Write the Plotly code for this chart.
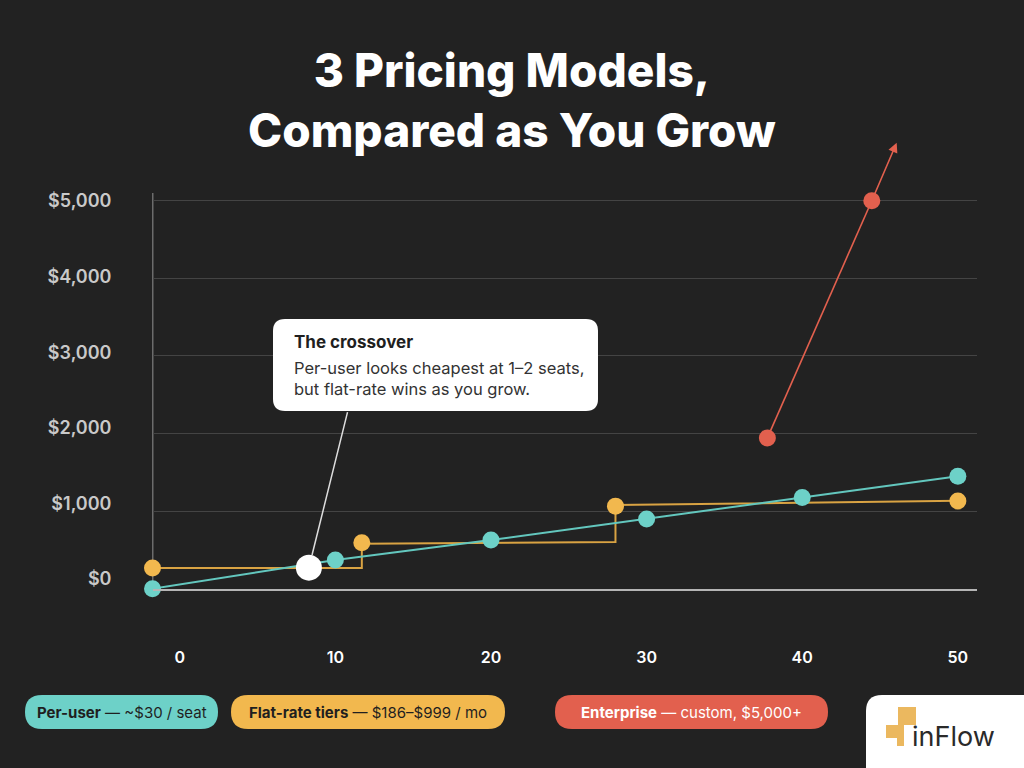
import plotly.graph_objects as go

W, H = 1024, 768
BG = "#222222"
TEAL = "#6DD1C8"
TEAL_LINE = "#63C7BE"
ORANGE = "#F2B84E"
ORANGE_LINE = "#D9A343"
RED = "#E2604E"
GRID = "#444444"
AXIS = "#b5b5b5"
FONT = "Inter"

# ---- data ----
per_user_seats = [-1.75, 10, 20, 30, 40, 50]
per_user_cost = [0, 370, 627, 897, 1176, 1450]

flat_seats = [-1.75, 11.7, 28, 50]
flat_cost = [267, 593, 1064, 1130]
flat_path_seats = [-1.75, 11.7, 11.7, 28, 28, 50]
flat_path_cost = [267, 267, 578, 603, 1078, 1132]

ent_seats = [37.76, 44.47]
ent_cost = [1943, 5000]
ent_arrow_seats = 46.07
ent_arrow_cost = 5747

cross_seats = [8.3]
cross_cost = [271]

x_ticks = [0, 10, 20, 30, 40, 50]
y_ticks = [0, 1000, 2000, 3000, 4000, 5000]
y_tick_labels = ["$0", "$1,000", "$2,000", "$3,000", "$4,000", "$5,000"]
y_axis_top = 5100

title_lines = ["3 Pricing Models,", "Compared as You Grow"]
legend_items = [
    ("Per-user", " — ~$30 / seat", TEAL, "#1f1f1f", 25, 218),
    ("Flat-rate tiers", " — $186–$999 / mo", ORANGE, "#1f1f1f", 231, 505),
    ("Enterprise", " — custom, $5,000+", RED, "#ffffff", 555, 828),
]
callout_title = "The crossover"
callout_body = ["Per-user looks cheapest at 1–2 seats,", "but flat-rate wins as you grow."]


def px(x):
    return x / W


def py(y):
    return 1 - y / H


def rounded_rect(x0, y0, x1, y1, r):
    """pixel box -> paper path with rounded corners"""
    X = lambda v: f"{px(v):.5f}"
    Y = lambda v: f"{py(v):.5f}"
    return (f"M {X(x0 + r)},{Y(y0)} L {X(x1 - r)},{Y(y0)} Q {X(x1)},{Y(y0)} {X(x1)},{Y(y0 + r)} "
            f"L {X(x1)},{Y(y1 - r)} Q {X(x1)},{Y(y1)} {X(x1 - r)},{Y(y1)} "
            f"L {X(x0 + r)},{Y(y1)} Q {X(x0)},{Y(y1)} {X(x0)},{Y(y1 - r)} "
            f"L {X(x0)},{Y(y0 + r)} Q {X(x0)},{Y(y0)} {X(x0 + r)},{Y(y0)} Z")


fig = go.Figure()

# flat-rate step line
fig.add_trace(go.Scatter(x=flat_path_seats, y=flat_path_cost, mode="lines",
                         line=dict(color=ORANGE_LINE, width=2), cliponaxis=False,
                         hoverinfo="skip", showlegend=False))
# per-user
fig.add_trace(go.Scatter(x=per_user_seats, y=per_user_cost, mode="lines",
                         line=dict(color=TEAL_LINE, width=2), cliponaxis=False,
                         hoverinfo="skip", showlegend=False))
fig.add_trace(go.Scatter(x=flat_seats, y=flat_cost, mode="markers",
                         marker=dict(color=ORANGE, size=17), cliponaxis=False,
                         showlegend=False))
fig.add_trace(go.Scatter(x=per_user_seats, y=per_user_cost, mode="markers",
                         marker=dict(color=TEAL, size=17), cliponaxis=False,
                         showlegend=False))
# enterprise
fig.add_trace(go.Scatter(x=ent_seats, y=ent_cost, mode="lines+markers",
                         line=dict(color=RED, width=1.6),
                         marker=dict(color=RED, size=17), cliponaxis=False,
                         showlegend=False))
# crossover
fig.add_trace(go.Scatter(x=cross_seats, y=cross_cost, mode="markers",
                         marker=dict(color="#ffffff", size=26), cliponaxis=False,
                         showlegend=False))
# dummy trace for the label axis
fig.add_trace(go.Scatter(x=[None], y=[None], yaxis="y2", showlegend=False, hoverinfo="skip"))

# axes geometry
x_left_px, x_right_px = 152.5, 977
y_bottom_px = 588.7
px_per_unit = 77.6 / 1000
y_top_val = 5850
y_top_px = y_bottom_px - y_top_val * px_per_unit
dom_h = y_bottom_px - y_top_px

# label axis: slightly different spacing like the reference
lab_scale = (579 - 201) / 5000
lab_a = -(y_bottom_px - 579) / lab_scale
lab_b = lab_a + dom_h / lab_scale

fig.update_layout(
    width=W, height=H,
    paper_bgcolor=BG, plot_bgcolor=BG,
    margin=dict(l=0, r=0, t=0, b=0),
    showlegend=False,
    xaxis=dict(domain=[px(x_left_px), px(x_right_px)], range=[-1.75, 51.23],
               tickvals=x_ticks, showgrid=False, zeroline=False,
               showline=True, linecolor=AXIS, linewidth=2, ticks="",
               ticklabelstandoff=53,
               tickfont=dict(family=FONT, size=16, color="#ffffff", weight=600)),
    yaxis=dict(domain=[py(y_bottom_px), py(y_top_px)], range=[0, y_top_val],
               tickvals=y_ticks, showticklabels=False, showgrid=True,
               gridcolor=GRID, gridwidth=1, zeroline=False, showline=False),
    yaxis2=dict(overlaying="y", anchor="x", side="left", range=[lab_a, lab_b],
                tickvals=y_ticks, ticktext=y_tick_labels, showgrid=False,
                zeroline=False, showline=False, ticks="", ticklabelstandoff=40,
                tickfont=dict(family=FONT, size=18, color="#c9c9c9", weight=600)),
)

shapes = []
# y-axis vertical line
shapes.append(dict(type="line", xref="x", yref="y", x0=-1.75, x1=-1.75, y0=0, y1=y_axis_top,
                   line=dict(color=AXIS, width=1.5), layer="below"))
# callout box
shapes.append(dict(type="path", xref="paper", yref="paper",
                   path=rounded_rect(273, 319, 598, 411, 12),
                   fillcolor="#ffffff", line=dict(width=0), layer="above"))
# legend pills
for _, _, col, _, x0, x1 in legend_items:
    shapes.append(dict(type="path", xref="paper", yref="paper",
                       path=rounded_rect(x0, 695, x1, 729, 17),
                       fillcolor=col, line=dict(width=0)))
# logo box
shapes.append(dict(type="path", xref="paper", yref="paper",
                   path=rounded_rect(866, 695, 1060, 800, 16),
                   fillcolor="#ffffff", line=dict(width=0)))
# logo glyph
LOGO = "#EBB85F"
for (a, b, c, d) in [(898, 707, 916, 725), (886, 725, 904, 738), (897, 738, 904, 746)]:
    shapes.append(dict(type="rect", xref="paper", yref="paper",
                       x0=px(a), x1=px(c), y0=py(d), y1=py(b),
                       fillcolor=LOGO, line=dict(width=0)))
fig.update_layout(shapes=shapes)

ann = []
# title
ann.append(dict(xref="paper", yref="paper", x=0.5, y=py(100), xanchor="center", yanchor="middle",
                text="<br>".join(title_lines), showarrow=False, align="center",
                font=dict(family=FONT, size=46, color="#ffffff", weight=800)))
# enterprise arrow extension
ann.append(dict(xref="x", yref="y", axref="x", ayref="y",
                x=ent_arrow_seats, y=ent_arrow_cost, ax=ent_seats[-1], ay=ent_cost[-1],
                text="", showarrow=True, arrowhead=2, arrowsize=1.2, arrowwidth=1.6,
                arrowcolor=RED, standoff=0, startstandoff=0))
# crossover leader line
ann.append(dict(xref="x", yref="y", x=cross_seats[0], y=cross_cost[0], ax=39, ay=-157,
                text="", showarrow=True, arrowhead=0, arrowwidth=1.5, arrowcolor="#dddddd",
                standoff=13))
# callout text
ann.append(dict(xref="paper", yref="paper", x=px(292), y=py(342), xanchor="left", yanchor="middle",
                text=f"<b>{callout_title}</b>", showarrow=False,
                font=dict(family=FONT, size=17, color="#1f1f1f", weight=800)))
ann.append(dict(xref="paper", yref="paper", x=px(292), y=py(378), xanchor="left", yanchor="middle",
                text="<br>".join(callout_body), showarrow=False, align="left",
                font=dict(family=FONT, size=16.5, color="#333333")))
# legend texts
for bold, rest, col, tcol, x0, x1 in legend_items:
    ann.append(dict(xref="paper", yref="paper", x=px((x0 + x1) / 2), y=py(712),
                    xanchor="center", yanchor="middle", showarrow=False,
                    text=f"<b>{bold}</b>{rest}",
                    font=dict(family=FONT, size=15, color=tcol)))
# logo text
ann.append(dict(xref="paper", yref="paper", x=px(910), y=py(736), xanchor="left", yanchor="middle",
                text="inFlow", showarrow=False,
                font=dict(family=FONT, size=27, color="#2a2a2a", weight=400)))
fig.update_layout(annotations=ann)

fig.write_html("out.html")
